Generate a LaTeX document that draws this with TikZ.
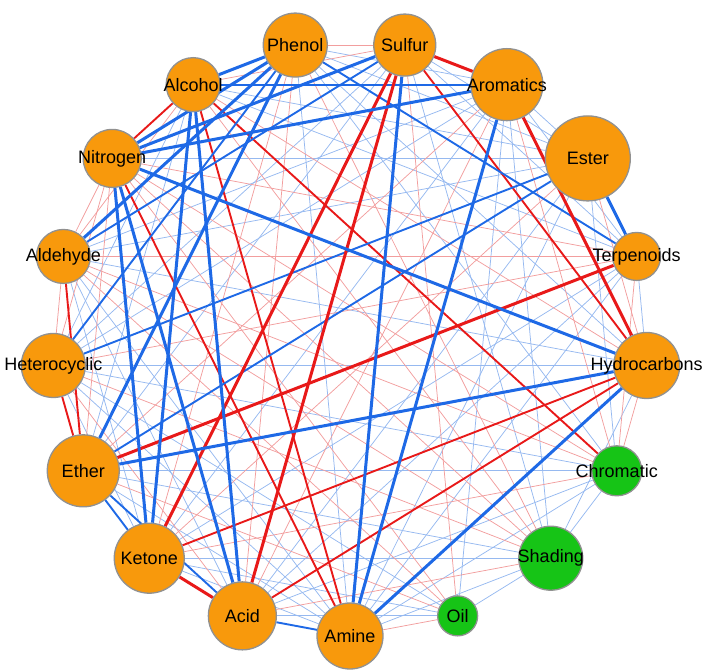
\documentclass[tikz,border=0pt]{standalone}
\usepackage{fontspec}
\setmainfont{Liberation Sans}
\pgfdeclarelayer{background}
\pgfsetlayers{background,main}
\definecolor{nodeorange}{RGB}{248,153,12}
\definecolor{nodegreen}{RGB}{22,196,22}
\definecolor{nodeborder}{RGB}{145,145,145}
\definecolor{strongblue}{RGB}{30,105,230}
\definecolor{strongred}{RGB}{232,25,25}
\definecolor{lightblue}{RGB}{150,185,240}
\definecolor{lightred}{RGB}{242,158,158}
\tikzset{
  basenode/.style={circle, draw=nodeborder, line width=1.3pt, inner sep=0pt},
  orangenode/.style={basenode, fill=nodeorange},
  greennode/.style={basenode, fill=nodegreen},
  lbl/.style={font=\fontsize{18}{20}\selectfont, text=black, inner sep=0pt},
  thinb/.style={draw=lightblue, line width=0.75pt},
  thinr/.style={draw=lightred, line width=0.75pt},
  medb/.style={draw=strongblue, line width=1.9pt},
  medr/.style={draw=strongred, line width=1.9pt},
  thickb/.style={draw=strongblue, line width=3pt},
  thickr/.style={draw=strongred, line width=3pt},
}
\begin{document}
\begin{tikzpicture}[x=1pt,y=1pt]
\useasboundingbox (0,0) rectangle (709,670);
\begin{scope}[shift={(350,332)}]
\node[orangenode, minimum size=66pt, label={[lbl]center:Amine}] (Amine) at (-90:298pt) {};
\node[greennode, minimum size=40pt, label={[lbl]center:Oil}] (Oil) at (-68.824:298pt) {};
\node[greennode, minimum size=64pt, label={[lbl]center:Shading}] (Shading) at (-47.647:298pt) {};
\node[greennode, minimum size=50pt, label={[lbl]center:Chromatic}] (Chromatic) at (-26.471:298pt) {};
\node[orangenode, minimum size=66pt, label={[lbl]center:Hydrocarbons}] (Hydro) at (-5.294:298pt) {};
\node[orangenode, minimum size=48pt, label={[lbl]center:Terpenoids}] (Terp) at (15.882:298pt) {};
\node[orangenode, minimum size=85pt, label={[lbl]center:Ester}] (Ester) at (37.059:298pt) {};
\node[orangenode, minimum size=72pt, label={[lbl]center:Aromatics}] (Arom) at (58.235:298pt) {};
\node[orangenode, minimum size=62pt, label={[lbl]center:Sulfur}] (Sulfur) at (79.412:298pt) {};
\node[orangenode, minimum size=64pt, label={[lbl]center:Phenol}] (Phenol) at (100.588:298pt) {};
\node[orangenode, minimum size=54pt, label={[lbl]center:Alcohol}] (Alcohol) at (121.765:298pt) {};
\node[orangenode, minimum size=58pt, label={[lbl]center:Nitrogen}] (Nitrogen) at (142.941:298pt) {};
\node[orangenode, minimum size=54pt, label={[lbl]center:Aldehyde}] (Aldehyde) at (164.118:298pt) {};
\node[orangenode, minimum size=64pt, label={[lbl]center:Heterocyclic}] (Hetero) at (185.294:298pt) {};
\node[orangenode, minimum size=72pt, label={[lbl]center:Ether}] (Ether) at (206.471:298pt) {};
\node[orangenode, minimum size=70pt, label={[lbl]center:Ketone}] (Ketone) at (227.647:298pt) {};
\node[orangenode, minimum size=68pt, label={[lbl]center:Acid}] (Acid) at (248.824:298pt) {};
\end{scope}
\begin{pgfonlayer}{background}
% thin blue
\foreach \a/\b in {Phenol/Arom, Phenol/Ester, Phenol/Hydro, Phenol/Amine, Sulfur/Ester, Sulfur/Terp,
  Sulfur/Hetero, Sulfur/Ether, Arom/Terp, Arom/Hetero, Arom/Ketone, Arom/Aldehyde, Ester/Aldehyde,
  Ester/Acid, Ester/Amine, Terp/Hydro, Terp/Ketone, Terp/Acid, Terp/Amine, Hydro/Hetero, Hydro/Aldehyde,
  Nitrogen/Ester, Alcohol/Ester, Alcohol/Terp, Alcohol/Ether, Alcohol/Hetero, Aldehyde/Ketone,
  Aldehyde/Acid, Aldehyde/Amine, Hetero/Ketone, Hetero/Amine, Ketone/Amine, Ether/Amine, Arom/Ester,
  Oil/Acid, Oil/Ketone, Oil/Shading, Oil/Hetero, Oil/Arom, Shading/Ketone, Shading/Ether, Shading/Sulfur,
  Shading/Arom, Shading/Chromatic, Shading/Hydro, Shading/Amine, Chromatic/Hetero, Chromatic/Ether,
  Chromatic/Ester, Chromatic/Phenol, Chromatic/Amine, Chromatic/Acid}
  \draw[thinb] (\a) -- (\b);
% thin red
\foreach \a/\b in {Phenol/Sulfur, Phenol/Ketone, Phenol/Acid, Sulfur/Alcohol, Arom/Acid, Arom/Ether,
  Arom/Chromatic, Ester/Hydro, Ester/Ketone, Terp/Aldehyde, Terp/Nitrogen, Hydro/Alcohol,
  Nitrogen/Aldehyde, Nitrogen/Hetero, Nitrogen/Ether, Alcohol/Aldehyde, Aldehyde/Hetero, Hetero/Acid,
  Sulfur/Oil, Alcohol/Shading, Oil/Amine, Oil/Ether, Oil/Nitrogen, Shading/Acid, Shading/Aldehyde,
  Shading/Nitrogen, Shading/Phenol, Shading/Hetero, Chromatic/Ketone, Chromatic/Aldehyde, Chromatic/Terp,
  Chromatic/Hydro, Hetero/Terp, Nitrogen/Chromatic, Aldehyde/Oil}
  \draw[thinr] (\a) -- (\b);
% medium red
\foreach \a/\b in {Sulfur/Hydro, Hydro/Ketone, Hydro/Acid, Alcohol/Chromatic, Alcohol/Amine,
  Nitrogen/Amine, Alcohol/Nitrogen, Hetero/Ether, Aldehyde/Ether}
  \draw[medr] (\a) -- (\b);
% medium blue
\foreach \a/\b in {Alcohol/Arom, Phenol/Hetero, Phenol/Terp, Ester/Hetero, Ester/Ether, Ether/Ketone,
  Ether/Acid, Acid/Amine, Sulfur/Aldehyde}
  \draw[medb] (\a) -- (\b);
% thick red
\foreach \a/\b in {Sulfur/Arom, Sulfur/Ketone, Sulfur/Acid, Arom/Hydro, Terp/Ether, Ketone/Acid}
  \draw[thickr] (\a) -- (\b);
% thick blue
\foreach \a/\b in {Alcohol/Phenol, Nitrogen/Arom, Nitrogen/Sulfur, Nitrogen/Phenol, Nitrogen/Hydro,
  Phenol/Aldehyde, Phenol/Ether, Nitrogen/Ketone, Nitrogen/Acid, Alcohol/Acid, Alcohol/Ketone,
  Sulfur/Amine, Arom/Amine, Hydro/Amine, Ether/Hydro, Ester/Terp}
  \draw[thickb] (\a) -- (\b);
\end{pgfonlayer}
\end{tikzpicture}
\end{document}
